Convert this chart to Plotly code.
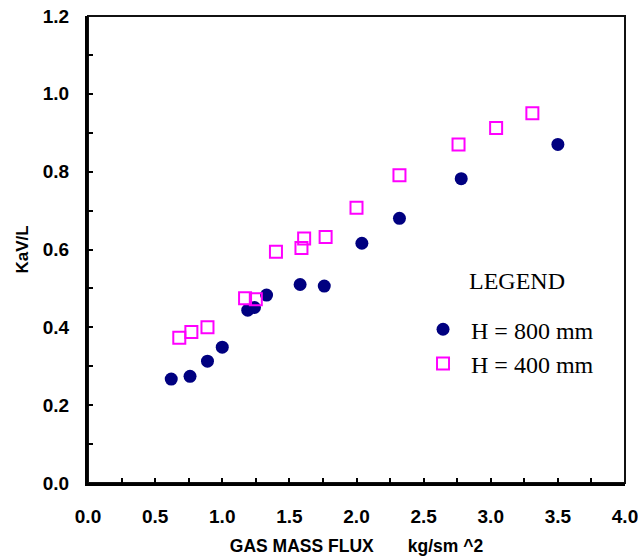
import plotly.graph_objects as go

# Data
x_800 = [0.62, 0.76, 0.89, 1.00, 1.19, 1.24, 1.33, 1.58, 1.76, 2.04, 2.32, 2.78, 3.50]
y_800 = [0.267, 0.274, 0.313, 0.349, 0.444, 0.451, 0.483, 0.510, 0.506, 0.616, 0.680, 0.782, 0.870]
x_400 = [0.68, 0.77, 0.89, 1.17, 1.25, 1.40, 1.59, 1.61, 1.77, 2.00, 2.32, 2.76, 3.04, 3.31]
y_400 = [0.373, 0.388, 0.400, 0.475, 0.472, 0.594, 0.604, 0.628, 0.632, 0.707, 0.791, 0.870, 0.912, 0.950]

name_800 = "H = 800 mm"
name_400 = "H = 400 mm"
x_title = "GAS MASS FLUX" + "\u00a0" * 7 + "kg/sm ^2"
y_title = "KaV/L"
legend_title = "LEGEND"

sans = "Liberation Sans, Arial, sans-serif"
serif = "Liberation Serif, Times New Roman, serif"

fig = go.Figure()
fig.add_trace(go.Scatter(
    x=x_800, y=y_800, mode="markers", name=name_800, legendgroup="g1",
    marker=dict(symbol="circle", size=13, color="#000080", line=dict(width=0)),
))
fig.add_trace(go.Scatter(
    x=x_400, y=y_400, mode="markers", name=name_400, legendgroup="g2",
    marker=dict(symbol="square-open", size=12, color="#FF00FF", line=dict(width=2, color="#FF00FF")),
))

axis_common = dict(
    showgrid=False, zeroline=False, showline=True, linecolor="black", linewidth=3,
    ticks="inside", ticklen=5, tickwidth=2, tickcolor="black",
    tickformat=".1f",
    tickfont=dict(family=sans, size=19, color="black", weight="bold"),
    mirror=False, automargin=False, ticklabeloverflow="allow",
)

fig.update_layout(
    width=638, height=556,
    margin=dict(l=88, r=13, t=16, b=73),
    paper_bgcolor="white", plot_bgcolor="white",
    xaxis=dict(
        range=[0, 4.0], dtick=0.5, tick0=0,
        minor=dict(dtick=0.25, ticks="inside", ticklen=5, tickwidth=2, tickcolor="black"),
        ticklabelstandoff=14,
        title=dict(text=x_title, font=dict(family=sans, size=17.5, color="black", weight="bold"), standoff=14),
        **axis_common,
    ),
    yaxis=dict(
        range=[0, 1.2], dtick=0.2, tick0=0,
        minor=dict(dtick=0.1, ticks="inside", ticklen=5, tickwidth=2, tickcolor="black"),
        ticklabelstandoff=12,
        title=dict(text=y_title, font=dict(family=sans, size=17, color="black", weight="bold"), standoff=10),
        **axis_common,
    ),
    showlegend=True,
    legend=dict(
        x=0.609, y=0.3766, xanchor="left", yanchor="top",
        bgcolor="rgba(0,0,0,0)", borderwidth=0,
        font=dict(family=serif, size=24, color="black"),
        itemwidth=46, tracegroupgap=0,
    ),
    annotations=[
        dict(text=legend_title, xref="paper", yref="paper", x=0.7989, y=0.4336,
             xanchor="center", yanchor="middle", showarrow=False,
             font=dict(family=serif, size=24, color="black")),
    ],
)

# Frame of the plot area: top and right edges thinner than the axes
fig.add_shape(type="rect", xref="x domain", yref="y domain", x0=0, x1=1, y0=0, y1=1,
              line=dict(color="#111111", width=2), fillcolor="rgba(0,0,0,0)", layer="below")

fig.write_html("out.html", config={"displayModeBar": False},
               post_script="document.body.style.margin='0';")
